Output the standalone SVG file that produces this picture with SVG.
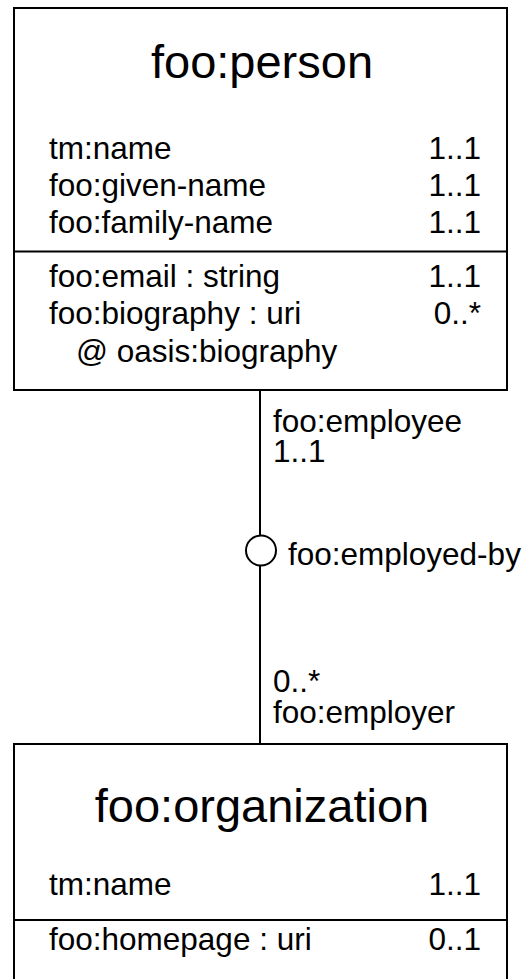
<svg xmlns="http://www.w3.org/2000/svg" width="526" height="979" viewBox="0 0 526 979">
<style>
.box{fill:#fff;stroke:#000;stroke-width:2}
.ln{stroke:#000;stroke-width:2;fill:none}
text{font-family:"Liberation Sans",Arial,sans-serif;fill:#000}
.t{font-size:47px;text-anchor:middle}
.r{font-size:31.5px}
.e{font-size:31.5px;text-anchor:end}
</style>
<rect width="526" height="979" fill="#fff"/>
<g id="connectors">
<line class="ln" x1="260" y1="390" x2="260" y2="535"/>
<line class="ln" x1="260" y1="566" x2="260" y2="744"/>
<circle class="ln" cx="261" cy="550.5" r="15" fill="#fff"/>
<text class="r" x="273" y="432">foo:employee</text>
<text class="r" x="273" y="462">1..1</text>
<text class="r" x="288" y="565">foo:employed-by</text>
<text class="r" x="273" y="692">0..*</text>
<text class="r" x="273" y="723">foo:employer</text>
</g>
<g id="person">
<rect class="box" x="14" y="8" width="493" height="382"/>
<line class="ln" x1="14" y1="251.5" x2="507" y2="251.5"/>
<text class="t" x="262" y="78">foo:person</text>
<text class="r" x="49" y="159">tm:name</text><text class="e" x="481" y="159">1..1</text>
<text class="r" x="49" y="196">foo:given-name</text><text class="e" x="481" y="196">1..1</text>
<text class="r" x="49" y="233">foo:family-name</text><text class="e" x="481" y="233">1..1</text>
<text class="r" x="49" y="287">foo:email : string</text><text class="e" x="481" y="287">1..1</text>
<text class="r" x="49" y="324">foo:biography : uri</text><text class="e" x="481" y="324">0..*</text>
<text class="r" x="76" y="362">@ oasis:biography</text>
</g>
<g id="organization">
<rect class="box" x="14" y="744" width="493" height="250"/>
<line class="ln" x1="14" y1="920" x2="507" y2="920"/>
<text class="t" x="262" y="822">foo:organization</text>
<text class="r" x="49" y="895">tm:name</text><text class="e" x="481" y="895">1..1</text>
<text class="r" x="49" y="950">foo:homepage : uri</text><text class="e" x="481" y="950">0..1</text>
</g>
</svg>
